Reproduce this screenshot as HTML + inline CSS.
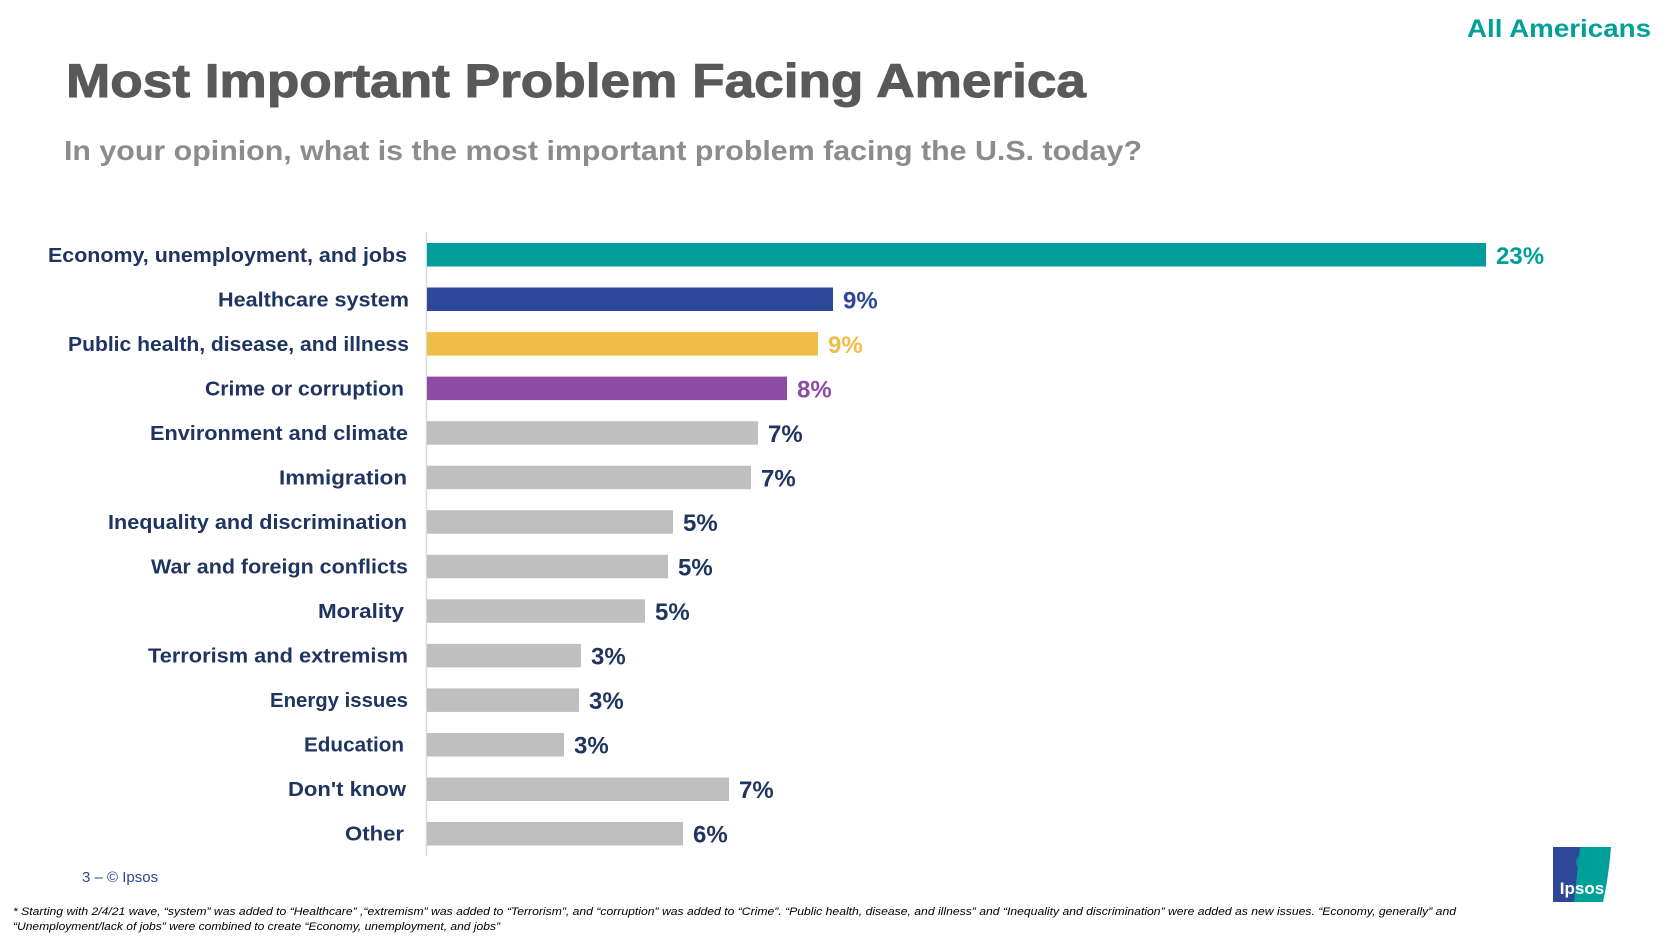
<!DOCTYPE html>
<html><head><meta charset="utf-8"><style>
html,body{margin:0;padding:0;background:#fff;}
svg{display:block;}
</style></head><body>
<svg width="1666" height="937" viewBox="0 0 1666 937" xmlns="http://www.w3.org/2000/svg" font-family="Liberation Sans, Arial, sans-serif">
<text x="1651" y="37" text-anchor="end" font-size="25" font-weight="bold" fill="#00a09a" textLength="184" lengthAdjust="spacingAndGlyphs">All Americans</text>
<text x="66" y="97" font-size="47" font-weight="bold" fill="#595959" stroke="#595959" stroke-width="1" textLength="1020" lengthAdjust="spacingAndGlyphs">Most Important Problem Facing America</text>
<text x="64" y="160" font-size="28" font-weight="bold" fill="#8c8c8c" textLength="1078" lengthAdjust="spacingAndGlyphs">In your opinion, what is the most important problem facing the U.S. today?</text>
<line x1="426.5" y1="232" x2="426.5" y2="856" stroke="#d9d9d9" stroke-width="1.5"/>
<g font-weight="bold">
<rect x="427" y="243" width="1059" height="23.5" fill="#009d9a"/>
<text x="1496" y="264" font-size="24" fill="#009d9a">23%</text>
<rect x="427" y="287.5" width="406" height="23.5" fill="#2e4799"/>
<text x="843" y="308.5" font-size="24" fill="#2e4799">9%</text>
<rect x="427" y="332.1" width="391" height="23.5" fill="#f0bd47"/>
<text x="828" y="353" font-size="24" fill="#f0bd47">9%</text>
<rect x="427" y="376.6" width="360" height="23.5" fill="#8e4ba6"/>
<text x="797" y="397.5" font-size="24" fill="#8e4ba6">8%</text>
<g fill="#bfbfbf">
<rect x="427" y="421.2" width="331" height="23.5"/>
<rect x="427" y="465.7" width="324" height="23.5"/>
<rect x="427" y="510.2" width="246" height="23.5"/>
<rect x="427" y="554.8" width="241" height="23.5"/>
<rect x="427" y="599.3" width="218" height="23.5"/>
<rect x="427" y="643.9" width="154" height="23.5"/>
<rect x="427" y="688.4" width="152" height="23.5"/>
<rect x="427" y="733" width="137" height="23.5"/>
<rect x="427" y="777.5" width="302" height="23.5"/>
<rect x="427" y="822" width="256" height="23.5"/>
</g>
<g font-size="24" fill="#1f3461">
<text x="768" y="442">7%</text>
<text x="761" y="486.5">7%</text>
<text x="683" y="531">5%</text>
<text x="678" y="575.5">5%</text>
<text x="655" y="620">5%</text>
<text x="591" y="664.5">3%</text>
<text x="589" y="709">3%</text>
<text x="574" y="753.5">3%</text>
<text x="739" y="798">7%</text>
<text x="693" y="842.5">6%</text>
</g>
<g font-size="20" fill="#1f3461" lengthAdjust="spacingAndGlyphs">
<text x="48" y="262" textLength="359" lengthAdjust="spacingAndGlyphs">Economy, unemployment, and jobs</text>
<text x="218" y="306.5" textLength="191" lengthAdjust="spacingAndGlyphs">Healthcare system</text>
<text x="68" y="351" textLength="341" lengthAdjust="spacingAndGlyphs">Public health, disease, and illness</text>
<text x="205" y="395.5" textLength="199" lengthAdjust="spacingAndGlyphs">Crime or corruption</text>
<text x="150" y="440" textLength="258" lengthAdjust="spacingAndGlyphs">Environment and climate</text>
<text x="279" y="484.5" textLength="128" lengthAdjust="spacingAndGlyphs">Immigration</text>
<text x="108" y="529" textLength="299" lengthAdjust="spacingAndGlyphs">Inequality and discrimination</text>
<text x="151" y="573.5" textLength="257" lengthAdjust="spacingAndGlyphs">War and foreign conflicts</text>
<text x="318" y="618" textLength="86" lengthAdjust="spacingAndGlyphs">Morality</text>
<text x="148" y="662.5" textLength="260" lengthAdjust="spacingAndGlyphs">Terrorism and extremism</text>
<text x="270" y="707" textLength="138" lengthAdjust="spacingAndGlyphs">Energy issues</text>
<text x="304" y="751.5" textLength="100" lengthAdjust="spacingAndGlyphs">Education</text>
<text x="288" y="796" textLength="118" lengthAdjust="spacingAndGlyphs">Don't know</text>
<text x="345" y="840.5" textLength="59" lengthAdjust="spacingAndGlyphs">Other</text>
</g>
</g>
<text x="82" y="882" font-size="15" fill="#2e4799">3 –  © Ipsos</text>
<g>
<rect x="1553" y="847" width="40" height="55" fill="#2e4799"/>
<path d="M1580 847 H1611 Q1609 875 1603 902 H1574 Z" fill="#00a09a"/>
<circle cx="1584" cy="862" r="8" fill="#009d9a" opacity="0.8"/>
<text x="1582" y="894" font-size="17" font-weight="bold" fill="#fff" text-anchor="middle">Ipsos</text>
</g>
<g font-size="11" font-style="italic" fill="#000">
<text x="13" y="915" textLength="1443" lengthAdjust="spacingAndGlyphs">* Starting with 2/4/21 wave, “system” was added to “Healthcare” ,“extremism” was added to “Terrorism”, and “corruption” was added to “Crime”. “Public health, disease, and illness” and “Inequality and discrimination” were added as new issues. “Economy,      generally” and</text>
<text x="13" y="930" textLength="487" lengthAdjust="spacingAndGlyphs">“Unemployment/lack of jobs” were combined to create “Economy, unemployment, and jobs”</text>
</g>
</svg>
</body></html>
